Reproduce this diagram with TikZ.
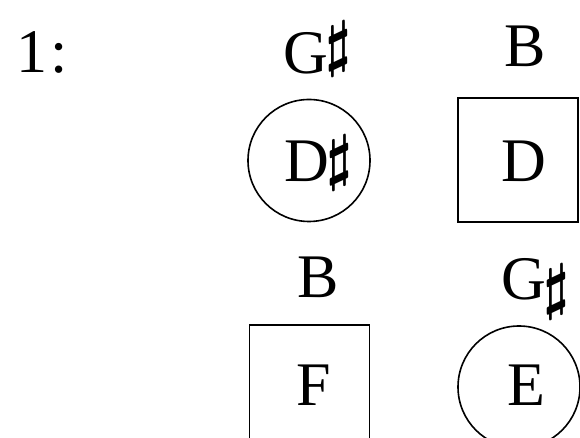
\documentclass[tikz,border=0pt]{standalone}
\usepackage{fontspec}
\setmainfont{Liberation Serif}
\newcommand{\shp}[1]{\kern-2pt\raisebox{#1}{\scalebox{5.8}[6.2]{\fontsize{10}{12}\selectfont\boldmath$\sharp$}}}
\begin{document}
\begin{tikzpicture}[x=1pt,y=1pt,
  txt/.style={inner sep=0pt,anchor=base west,font=\fontsize{62}{74}\selectfont},
  ring/.style={circle,draw,line width=1.6pt,minimum size=122pt,inner sep=0pt},
  boxsq/.style={rectangle,draw,line width=1.6pt,inner sep=0pt,minimum width=120pt,minimum height=124pt}]
\useasboundingbox (0,0) rectangle (580,438);
\clip (0,0) rectangle (580,438);
% shapes
\node[ring]  (c1) at (309,277.5) {};
\node[boxsq] (s1) at (518,278) {};
\node[boxsq] (s2) at (309.5,51) {};
\node[ring]  (c2) at (519,51) {};
% texts
\node[txt] (one) at (16,365) {1\kern3pt:};
\node[txt] (g1) at (283,364) {G\shp{9pt}};
\node[txt] (b1) at (504,371) {B};
\node[txt] (d1) at (284,256) {D\shp{3pt}};
\node[txt] (d2) at (501,256) {D};
\node[txt] (b2) at (297,140) {B};
\node[txt] (g2) at (501,138) {G\shp{-8pt}};
\node[txt] (f1) at (296,32) {F};
\node[txt] (e1) at (507,32) {E};
\end{tikzpicture}
\end{document}
